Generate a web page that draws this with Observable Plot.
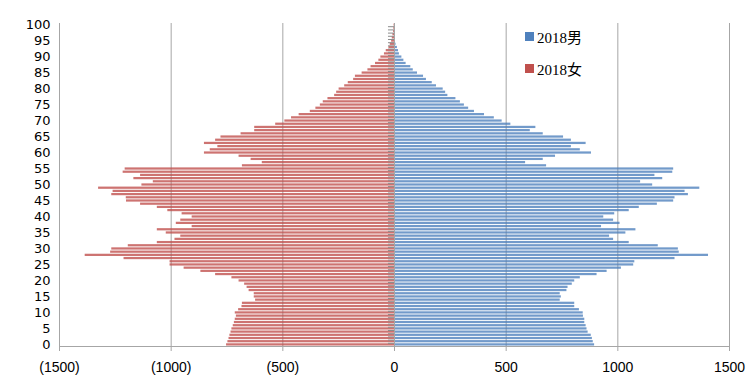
<!DOCTYPE html>
<html><head><meta charset="utf-8">
<script src="https://cdn.jsdelivr.net/npm/d3@7"></script>
<script src="https://cdn.jsdelivr.net/npm/@observablehq/plot@0.6"></script>
<style>
body{margin:0;background:#fff;}
#wrap{position:relative;width:747px;height:385px;}
.lg{position:absolute;left:525px;height:17px;display:flex;align-items:center;font-family:"Liberation Serif","Noto Sans CJK SC",serif;font-size:15px;color:#000;white-space:nowrap;}
.lg .sw{display:inline-block;width:9px;height:9px;margin-right:3px;}
</style></head><body><div id="wrap"></div>
<script>
const ages = d3.range(0, 101);
const male = [896,890,886,881,867,862,858,852,852,846,
  845,828,807,807,742,747,742,772,777,796,
  807,832,907,952,1016,1071,1076,1256,1406,1275,
  1271,1181,1051,981,963,1036,1081,927,1010,981,
  937,986,1051,1096,1177,1250,1256,1316,1301,1367,
  1156,1102,1201,1166,1246,1250,681,587,666,721,
  882,832,792,858,792,757,666,608,633,521,
  482,447,403,358,332,313,295,275,239,229,
  218,188,169,143,130,103,84,73,52,42,
  33,22,18,13,7,3,2,1,1,1,1];
const female = [752,746,741,737,732,728,722,717,713,708,
  713,698,683,681,622,628,628,651,660,671,
  696,728,801,867,942,1005,1005,1211,1385,1271,
  1266,1192,1062,983,957,1022,1062,906,977,957,
  906,951,1015,1062,1137,1200,1201,1266,1260,1325,
  1131,1080,1167,1137,1215,1206,681,592,642,696,
  851,825,791,851,801,777,687,626,626,532,
  491,461,427,377,352,332,319,298,268,259,
  248,223,207,183,175,145,119,105,85,70,
  61,45,37,25,19,13,10,7,4,3,2];
const xTicks = [-1500, -1000, -500, 0, 500, 1000, 1500];
const yTicks = ages.filter(a => a % 5 === 0);
const seriesNames = ["2018男", "2018女"];
const seriesColors = ["#4F81BD", "#C0504D"];

const maleRows = ages.map((a, i) => ({age: a, v: male[i]}));
const femaleRows = ages.map((a, i) => ({age: a, v: -female[i]}));
const grid = "#A6A6A6";

const chart = Plot.plot({
  width: 747, height: 385,
  marginLeft: 59, marginRight: 18, marginTop: 23, marginBottom: 39,
  x: {domain: [-1500, 1500], label: null},
  y: {type: "band", domain: ages.slice().reverse(), paddingInner: 0.3, paddingOuter: 0.15, round: false, label: null},
  style: {background: "#fff"},
  marks: [
    Plot.ruleX(xTicks, {stroke: grid, strokeWidth: 1}),
    Plot.barX(maleRows, {x: "v", y: "age", fill: seriesColors[0], fillOpacity: 0.8}),
    Plot.barX(femaleRows, {x: "v", y: "age", fill: seriesColors[1], fillOpacity: 0.8}),
    Plot.ruleY(ages, {y: d => d, x1: -27, x2: 0, dy: 1.6, stroke: "#8c8c8c", strokeWidth: 1}),
    Plot.ruleX([0], {stroke: grid}),
    Plot.frame({anchor: "bottom", stroke: grid}),
    Plot.axisX(xTicks, {
      label: null,
      tickSize: 5, tickPadding: 11, stroke: grid,
      tickFormat: d => d < 0 ? `(${-d})` : `${d}`,
      fontSize: 14, fontFamily: "Liberation Sans, Arial, sans-serif", fill: "#000"
    }),
    Plot.axisY(yTicks, {
      label: null,
      tickSize: 0, tickPadding: 9, fontSize: 13,
      fontFamily: "DejaVu Sans, sans-serif", fill: "#000",
      style: {letterSpacing: "2px"}
    })
  ]
});
chart.style.position = "absolute";
chart.style.left = "0px";
chart.style.top = "0px";
const wrap = document.getElementById("wrap");
wrap.appendChild(chart);

seriesNames.forEach((name, i) => {
  const d = document.createElement("div");
  d.className = "lg";
  d.style.top = (28 + i * 32) + "px";
  const sw = document.createElement("span");
  sw.className = "sw";
  sw.style.background = seriesColors[i];
  d.appendChild(sw);
  d.appendChild(document.createTextNode(name));
  wrap.appendChild(d);
});
</script>
</body></html>
